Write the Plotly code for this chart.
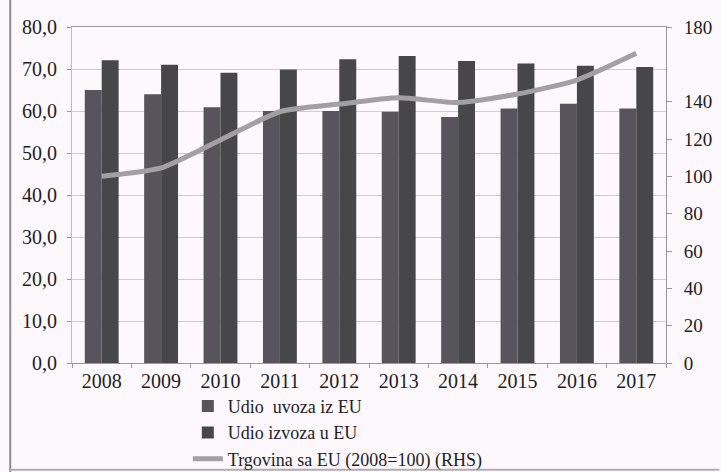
import plotly.graph_objects as go

# Data
years = ["2008", "2009", "2010", "2011", "2012", "2013", "2014", "2015", "2016", "2017"]
udio_uvoza = [65.0, 64.0, 60.9, 60.0, 60.0, 59.8, 58.6, 60.6, 61.7, 60.6]
udio_izvoza = [72.1, 71.0, 69.1, 69.9, 72.3, 73.1, 71.9, 71.3, 70.8, 70.5]
trgovina = [100.0, 104.5, 119.5, 134.6, 138.7, 142.1, 139.5, 144.1, 151.6, 165.9]

left_ticks = [0, 10, 20, 30, 40, 50, 60, 70, 80]
left_ticktext = ["0,0", "10,0", "20,0", "30,0", "40,0", "50,0", "60,0", "70,0", "80,0"]
right_ticks = [0, 20, 40, 60, 80, 100, 120, 140, 180]

names = ["Udio  uvoza iz EU", "Udio izvoza u EU", "Trgovina sa EU (2008=100) (RHS)"]

font_family = "Liberation Serif, Times New Roman, Times, DejaVu Serif, serif"
bg = "#fcf8fb"
grid = "#cfcccf"
axis_col = "#9a979a"

fig = go.Figure()
fig.add_trace(go.Bar(x=years, y=udio_uvoza, name=names[0],
                     marker=dict(color="#57545b", line=dict(width=0))))
fig.add_trace(go.Bar(x=years, y=udio_izvoza, name=names[1],
                     marker=dict(color="#474649", line=dict(width=0))))
fig.add_trace(go.Scatter(x=years, y=trgovina, name=names[2], yaxis="y2",
                         mode="lines", line=dict(color="#a2a0a3", width=5, shape="spline", smoothing=0.6)))

fig.update_layout(
    width=721, height=472,
    margin=dict(l=72, r=55, t=27, b=109, autoexpand=False),
    paper_bgcolor=bg, plot_bgcolor=bg,
    barmode="group", bargap=0.43, bargroupgap=0,
    font=dict(family=font_family, size=18, color="#1e1e1e"),
    xaxis=dict(type="category", showgrid=False, showline=True, linecolor=axis_col, linewidth=1,
               mirror=True, ticks="outside", ticklen=4, tickcolor=axis_col,
               tickson="boundaries", tickfont=dict(size=20, family=font_family)),
    yaxis=dict(range=[0, 80], tickvals=left_ticks, ticktext=left_ticktext,
               showgrid=True, gridcolor=grid, gridwidth=1, zeroline=False,
               showline=True, linecolor="#c0bdc0", ticks="outside", ticklen=4, tickcolor=axis_col,
               ticklabelstandoff=6, tickfont=dict(size=20, family=font_family)),
    yaxis2=dict(range=[0, 180], tickvals=right_ticks, overlaying="y", side="right",
                showgrid=False, zeroline=False, showline=True, linecolor=axis_col,
                ticks="outside", ticklen=5, tickcolor=axis_col,
                ticklabelstandoff=8, tickfont=dict(size=19, family=font_family)),
    legend=dict(x=0.195, y=-0.074, xanchor="left", yanchor="top", orientation="v",
                bgcolor="rgba(0,0,0,0)", font=dict(size=18, family=font_family),
                tracegroupgap=0, itemwidth=30),
    showlegend=True,
    shapes=[
        dict(type="line", xref="paper", yref="paper", x0=-0.104, x1=-0.104, y0=-0.33, y1=1.09,
             line=dict(color="#8e8b8e", width=2)),
        dict(type="line", xref="paper", yref="paper", x0=-0.104, x1=1.09, y0=-0.318, y1=-0.318,
             line=dict(color="#b0adb0", width=2)),
    ],
)

fig.write_html("out.html")
